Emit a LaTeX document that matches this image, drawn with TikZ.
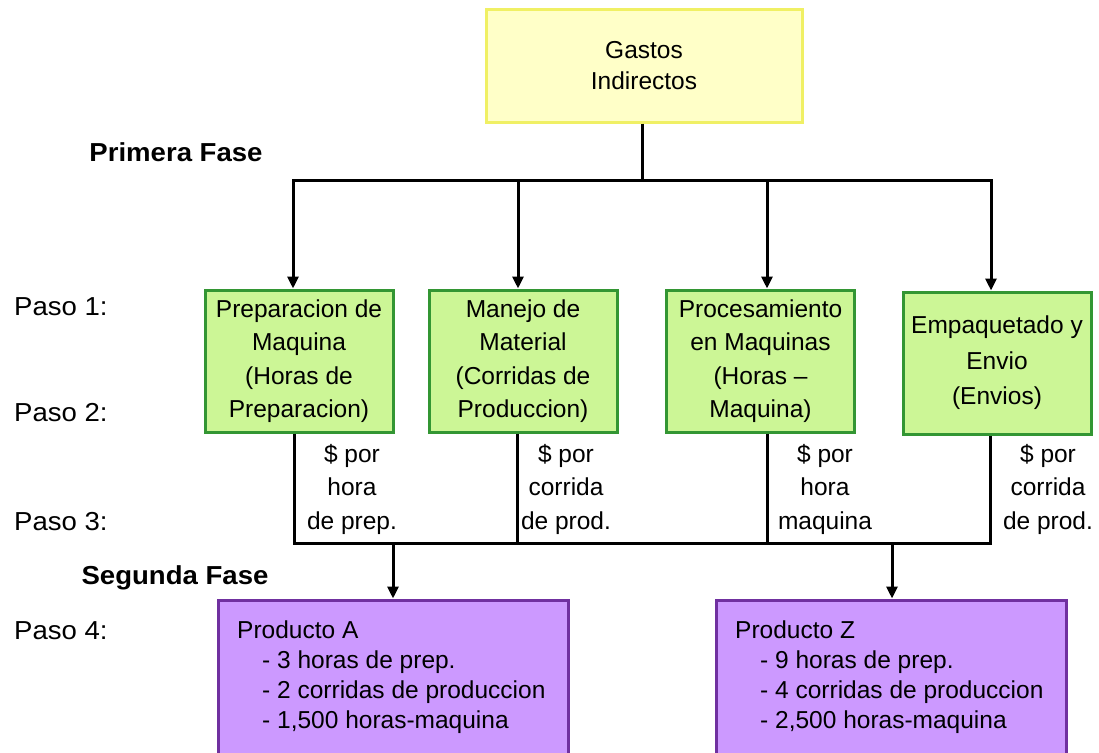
\documentclass[tikz,border=0pt]{standalone}
\usepackage{fontspec}
\setmainfont{Liberation Sans}
\newfontfamily\labelfont[FakeStretch=1.06]{Liberation Sans}
\usetikzlibrary{arrows.meta}

\definecolor{boxyellow}{RGB}{255,255,200}
\definecolor{edgeyellow}{RGB}{240,240,100}
\definecolor{boxgreen}{RGB}{204,246,150}
\definecolor{edgegreen}{RGB}{51,150,51}
\definecolor{boxpurple}{RGB}{204,153,255}
\definecolor{edgepurple}{RGB}{112,48,160}

\begin{document}
\begin{tikzpicture}[x=1pt,y=-1pt,
  txt/.style={font=\fontsize{24.5}{33.5}\selectfont, align=center, inner sep=0pt},
  rootbox/.style={draw=edgeyellow, fill=boxyellow, line width=3pt,
    minimum width=316pt, minimum height=112pt, inner sep=0pt,
    font=\fontsize{24.5}{31}\selectfont, align=center},
  poolbox/.style={txt, draw=edgegreen, fill=boxgreen, line width=3pt,
    minimum width=188pt, minimum height=142pt},
  prodbox/.style={draw=edgepurple, fill=boxpurple, line width=3pt,
    minimum width=350pt, minimum height=170pt, inner sep=0pt},
  prodtext/.style={font=\fontsize{24.5}{30}\selectfont, align=left, inner sep=0pt, anchor=north west},
  ratetext/.style={txt},
  steplabel/.style={font=\labelfont\fontsize{26}{30}\selectfont, inner sep=0pt, anchor=west},
  phaselabel/.style={font=\labelfont\bfseries\fontsize{26}{30}\selectfont, inner sep=0pt},
  link/.style={line width=3pt, black},
  arrow/.style={link, -{Triangle[length=12pt,width=11pt]}},
]
\useasboundingbox (0,0) rectangle (1099,752);
\clip (0,0) rectangle (1099,752);
\fill[white] (0,0) rectangle (1099,752);

% overhead pool
\node[rootbox] (root) at (644,66) {Gastos\\Indirectos};

% activity cost pools
\node[poolbox] (b1) at (299,361) {Preparacion de\\Maquina\\(Horas de\\Preparacion)};
\node[poolbox] (b2) at (523,361) {Manejo de\\Material\\(Corridas de\\Produccion)};
\node[poolbox] (b3) at (760.5,361) {Procesamiento\\en Maquinas\\(Horas --\\Maquina)};
\node[poolbox, font=\fontsize{24.5}{35.5}\selectfont] (b4) at (997,363) {Empaquetado y\\Envio\\(Envios)};

% products
\node[prodbox] (pa) at (393,685) {};
\node[prodbox] (pz) at (891.5,685) {};
\node[prodtext] (pa-text) at (237,621) {Producto A\\\hspace*{25pt}- 3 horas de prep.\\\hspace*{25pt}- 2 corridas de produccion\\\hspace*{25pt}- 1,500 horas-maquina};
\node[prodtext] (pz-text) at (735,621) {Producto Z\\\hspace*{25pt}- 9 horas de prep.\\\hspace*{25pt}- 4 corridas de produccion\\\hspace*{25pt}- 2,500 horas-maquina};

% rate labels
\node[ratetext] (r1) at (352,489) {\$ por\\hora\\de prep.};
\node[ratetext] (r2) at (566,489) {\$ por\\corrida\\de prod.};
\node[ratetext] (r3) at (825,489) {\$ por\\hora\\maquina};
\node[ratetext] (r4) at (1048,489) {\$ por\\corrida\\de prod.};

% left-hand labels
\node[phaselabel] (ph1) at (176,152) {Primera Fase};
\node[phaselabel, anchor=base] (ph2) at (175,584) {Segunda Fase};
\node[steplabel] (s1) at (14,307) {Paso 1:};
\node[steplabel] (s2) at (14,413) {Paso 2:};
\node[steplabel] (s3) at (14,522) {Paso 3:};
\node[steplabel] (s4) at (14,631) {Paso 4:};

% first phase connectors
\coordinate (j) at (642,180);
\coordinate (h1) at (293,180);
\coordinate (h2) at (518,180);
\coordinate (h3) at (767,180);
\coordinate (h4) at (991,180);
\draw[link] (j |- root.south) -- (j);
\draw[link, line cap=rect] (h1) -- (h4);
\draw[arrow] (h1) -- (h1 |- b1.north);
\draw[arrow] (h2) -- (h2 |- b2.north);
\draw[arrow] (h3) -- (h3 |- b3.north);
\draw[arrow] (h4) -- (h4 |- b4.north);

% second phase connectors
\coordinate (d1) at (294,543);
\coordinate (d2) at (517,543);
\coordinate (d3) at (767,543);
\coordinate (d4) at (990,543);
\coordinate (e1) at (393,543);
\coordinate (e2) at (892,543);
\draw[link, line join=miter] (d1 |- b1.south) -- (d1) -- (d4) -- (d4 |- b4.south);
\draw[link] (d2 |- b2.south) -- (d2);
\draw[link] (d3 |- b3.south) -- (d3);
\draw[arrow] (e1) -- (e1 |- pa.north);
\draw[arrow] (e2) -- (e2 |- pz.north);
\end{tikzpicture}
\end{document}
